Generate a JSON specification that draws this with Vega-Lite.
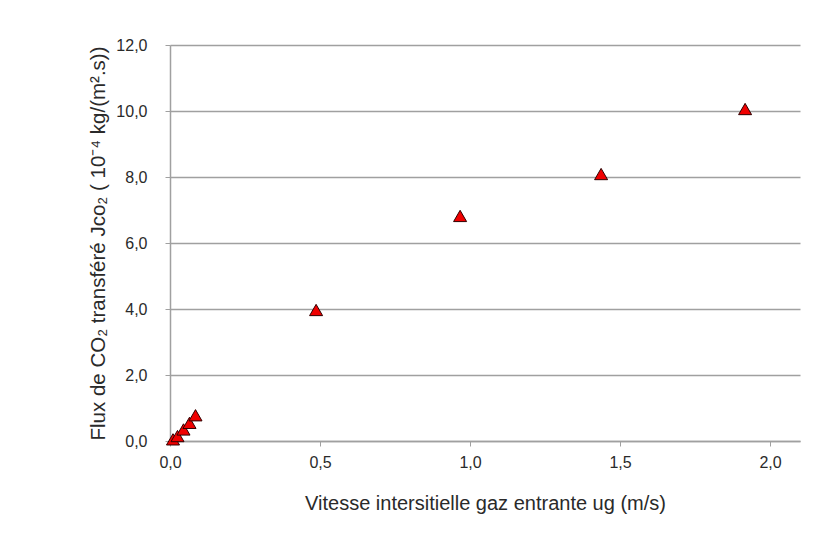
{
  "$schema": "https://vega.github.io/schema/vega-lite/v6.json",
  "autosize": {"type": "none"},
  "padding": {"left": 170, "top": 45, "right": 23, "bottom": 106},
  "width": 630,
  "height": 396,
  "background": "white",
  "config": {
    "locale": {"number": {"decimal": ",", "thousands": ".", "grouping": [3], "currency": ["", " €"]}},
    "view": {"stroke": null},
    "font": "Liberation Sans"
  },
  "data": {
    "values": [
      {"u": 0.01, "J": 0.05},
      {"u": 0.025, "J": 0.15},
      {"u": 0.045, "J": 0.35},
      {"u": 0.065, "J": 0.55},
      {"u": 0.085, "J": 0.78},
      {"u": 0.487, "J": 3.97},
      {"u": 0.967, "J": 6.82},
      {"u": 1.437, "J": 8.09},
      {"u": 1.917, "J": 10.06}
    ]
  },
  "mark": {"type": "point", "shape": "triangle-up", "filled": true, "fill": "#f00000", "stroke": "#300000", "strokeWidth": 1, "size": 170, "opacity": 1},
  "encoding": {
    "x": {
      "field": "u", "type": "quantitative",
      "scale": {"domain": [0, 2.1], "nice": false, "zero": true},
      "axis": {
        "values": [0, 0.5, 1, 1.5, 2], "format": ".1f", "grid": false, "labelFlush": false,
        "domainColor": "#a0a0a0", "domainWidth": 1.5, "tickColor": "#a0a0a0", "tickSize": 5,
        "labelFontSize": 16, "labelColor": "#2a2a2a", "labelPadding": 8,
        "title": "Vitesse intersitielle gaz entrante ug  (m/s)",
        "titleFontSize": 20, "titleFontWeight": "normal", "titleColor": "#2a2a2a", "titlePadding": 23
      }
    },
    "y": {
      "field": "J", "type": "quantitative",
      "scale": {"domain": [0, 12], "nice": false},
      "axis": {
        "values": [0, 2, 4, 6, 8, 10, 12], "format": ".1f", "grid": true, "labelFlush": false,
        "gridColor": "#a0a0a0", "gridWidth": 1.5,
        "domainColor": "#a0a0a0", "domainWidth": 1.5, "tickColor": "#a0a0a0", "tickSize": 5,
        "labelFontSize": 16, "labelColor": "#2a2a2a", "labelPadding": 18,
        "title": "Flux de CO₂ transféré  Jᴄᴏ₂ ( 10⁻⁴ kg/(m².s))",
        "titleFontSize": 20.5, "titleFontWeight": "normal", "titleColor": "#2a2a2a", "titlePadding": 7
      }
    }
  }
}
